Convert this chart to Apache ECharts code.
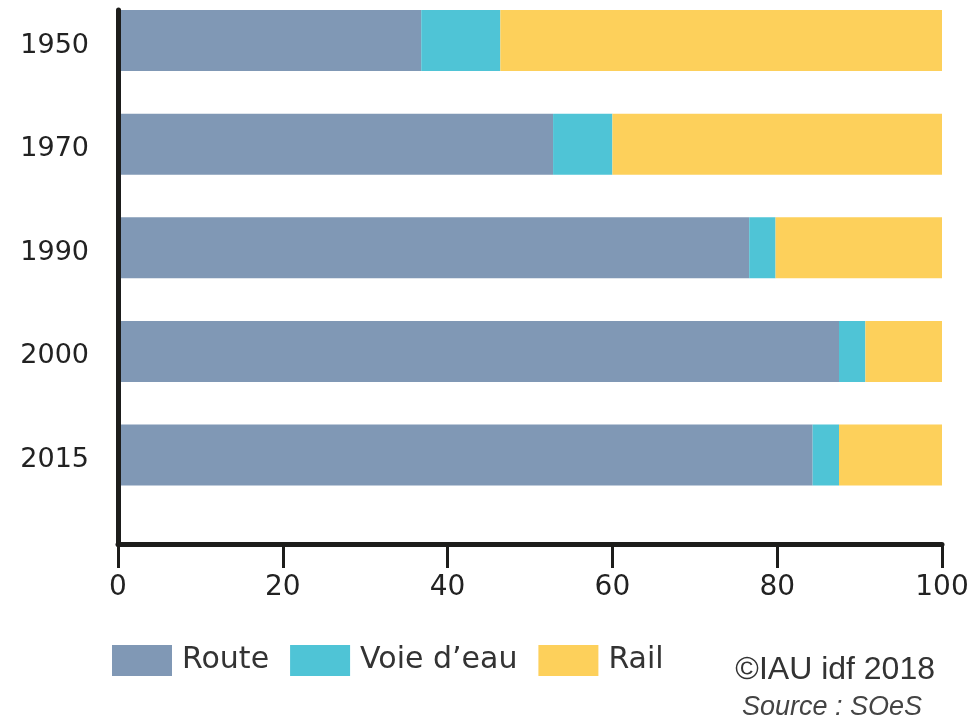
<!DOCTYPE html>
<html>
<head>
<meta charset="utf-8">
<script src="https://cdn.jsdelivr.net/npm/echarts@6/dist/echarts.min.js"></script>
<style>
html,body{margin:0;padding:0;background:#fff;}
#chart{width:973px;height:721px;}
</style>
</head>
<body>
<div id="chart"></div>
<script>
const years = ['1950', '1970', '1990', '2000', '2015'];
const route = [36.8, 52.8, 76.6, 87.5, 84.3];
const voieDeau = [9.6, 7.2, 3.2, 3.2, 3.2];
const rail = [53.6, 40.0, 20.2, 9.3, 12.5];
const xTicks = [0, 20, 40, 60, 80, 100];
const seriesNames = ['Route', 'Voie d\u2019eau', 'Rail'];

const labelFont = '"DejaVu Sans", "Noto Sans", sans-serif';
const chart = echarts.init(document.getElementById('chart'), null, {renderer: 'canvas'});

const option = {
  backgroundColor: '#ffffff',
  animation: false,
  color: ['#8098b5', '#4fc4d6', '#fdd05b'],
  grid: [
    {left: 118, right: 31, top: 40.5, height: 414.5, containLabel: false},
    {left: 118, right: 31, top: 10, height: 534, containLabel: false}
  ],
  legend: {
    left: 107, top: 640,
    itemWidth: 60, itemHeight: 31, itemGap: 21,
    icon: 'rect',
    data: seriesNames,
    textStyle: {fontFamily: labelFont, fontSize: 30, color: '#333', padding: [0, 0, 0, 5]}
  },
  xAxis: [
    {gridIndex: 0, type: 'value', min: 0, max: 100, show: false},
    {
      gridIndex: 1, type: 'value', min: xTicks[0], max: xTicks[xTicks.length - 1], interval: 20,
      axisLine: {show: true, lineStyle: {color: '#1d1d1b', width: 5}},
      axisTick: {show: true, length: 24, lineStyle: {color: '#1d1d1b', width: 3}},
      splitLine: {show: false},
      axisLabel: {margin: 30, fontFamily: labelFont, fontSize: 28, color: '#222'},
      z: 10
    }
  ],
  yAxis: [
    {
      gridIndex: 0, type: 'category', inverse: true, boundaryGap: false, data: years,
      axisLine: {show: false}, axisTick: {show: false}, splitLine: {show: false},
      axisLabel: {margin: 29, fontFamily: labelFont, fontSize: 27, color: '#222', verticalAlign: 'top', lineHeight: 10}
    },
    {
      gridIndex: 1, type: 'value', min: 0, max: 1,
      axisLine: {show: true, lineStyle: {color: '#1d1d1b', width: 5}},
      axisTick: {show: false}, axisLabel: {show: false}, splitLine: {show: false},
      z: 10
    }
  ],
  series: [
    {name: seriesNames[0], type: 'bar', stack: 'total', clip: false, xAxisIndex: 0, yAxisIndex: 0, barWidth: 61, data: route},
    {name: seriesNames[1], type: 'bar', stack: 'total', clip: false, xAxisIndex: 0, yAxisIndex: 0, barWidth: 61, data: voieDeau},
    {name: seriesNames[2], type: 'bar', stack: 'total', clip: false, xAxisIndex: 0, yAxisIndex: 0, barWidth: 61, data: rail}
  ],
  graphic: [
    {type: 'text', right: 38, top: 654, style: {text: '\u00a9IAU idf 2018', fontFamily: '"Liberation Sans Narrow", "Liberation Sans", sans-serif', fontSize: 32, fill: '#333'}},
    {type: 'text', right: 51, top: 694, style: {text: 'Source : SOeS', fontFamily: '"Liberation Sans Narrow", "Liberation Sans", sans-serif', fontStyle: 'italic', fontSize: 27, fill: '#444'}}
  ]
};
chart.setOption(option);
</script>
</body>
</html>
